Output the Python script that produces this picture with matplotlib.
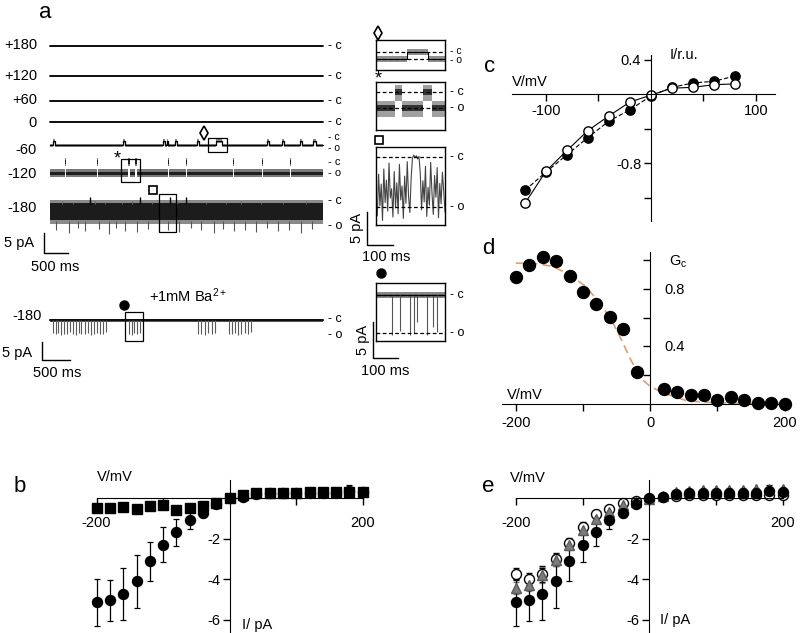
import numpy as np
import matplotlib
matplotlib.use('Agg')
import matplotlib.pyplot as plt
from matplotlib.patches import Rectangle

plt.rcParams['font.family'] = ['Liberation Sans', 'DejaVu Sans']
plt.rcParams['axes.unicode_minus'] = False
plt.rcParams['mathtext.fontset'] = 'custom'
plt.rcParams['mathtext.rm'] = 'Liberation Sans'
plt.rcParams['mathtext.it'] = 'Liberation Sans'

# ---------------- data ----------------
# a: single channel recordings (ms, pA; closed level = 0)
T_MAIN = 5500
trace_labels = ['+180', '+120', '+60', '0', '-60', '-120', '-180']

m60_open = -1.1
m60_close_t = [60, 1470, 2277, 2357, 2519, 2962, 3345, 4373, 4675, 5037, 5300]
m60_close_d = [40, 40, 30, 30, 40, 40, 110, 40, 30, 40, 50]

m120_open = -2.5
m120_close_t = [302, 947, 1572, 1713, 2378, 2740, 3687, 4272, 4836]
m120_close_d = [25, 25, 35, 35, 25, 25, 25, 25, 25]

m180_open = -6.25
m180_close_t = [806, 1813, 2418, 2740]
m180_down_t = [120, 380, 560, 700, 980, 1180, 1330, 1520, 1760, 1980, 2200, 2380, 2600,
               2850, 3050, 3300, 3480, 3700, 3920, 4150, 4380, 4600, 4820, 5050, 5280]
m180_down_v = [-7.6, -8.2, -7.0, -7.8, -7.3, -8.4, -7.1, -7.7, -8.0, -7.2, -7.9, -7.4, -8.1,
               -7.0, -7.6, -8.3, -7.2, -7.8, -7.5, -8.0, -7.1, -7.7, -7.4, -8.2, -7.3]
m180_up_t = [250, 470, 900, 1100, 1450, 1650, 2050, 2550, 3150, 3550, 3850, 4250, 4700, 5150]
m180_up_v = [-0.3, -0.5, -0.2, -0.6, -0.4, -0.3, -0.5, -0.2, -0.4, -0.6, -0.3, -0.5, -0.4, -0.2]

ba_open = -4.0
ba_spike_t = [60, 120, 170, 230, 290, 350, 400, 460, 520, 580, 630, 700, 760, 820, 880, 940,
              1000, 1060, 1120, 1590, 1650, 1700, 1760, 1820, 2980, 3050, 3120, 3180, 3260,
              3330, 3600, 3660, 3720, 3790, 3850, 3920, 3980, 4050]
ba_spike_v = [-3.3, -3.6, -3.2, -3.7, -3.4, -3.6, -3.1, -3.5, -3.7, -3.3, -3.6, -3.4, -3.2,
              -3.7, -3.5, -3.3, -3.6, -3.4, -3.0, -3.5, -3.7, -3.3, -3.6, -3.2, -3.6, -3.4,
              -3.7, -3.3, -3.5, -3.2, -3.4, -3.6, -3.3, -3.7, -3.5, -3.2, -3.6, -3.1]

# zoomed insets (265 ms each)
T_IN = 265
dia_open = -1.06
dia_close_t = [119]
dia_close_d = [81]
ast_open = -2.42
ast_close_t = [73, 180]
ast_close_d = [27, 35]
sq_open = -7.58
sq_vals = [-5.8, -8.9, -2.6, -7.4, -4.1, -9.6, -1.8, -6.9, -3.5, -8.2,
           -0.9, -6.2, -4.8, -9.1, -2.2, -7.7, -3.9, -8.6, -1.1, -6.5,
           -4.4, -9.3, -2.9, -7.0, -0.7, -5.9, -8.4, -3.2, -0.2, 0.3,
           -0.1, 0.2, -0.3, 0.1, -2.4, -8.0, -3.6, -6.8, -1.4, -9.0,
           -4.6, -7.3, -0.8, -5.5, -8.7, -2.8, -6.1, -1.6, -9.2, -4.0,
           -7.1, -2.3, -5.2, -8.3]
bai_open = -5.28
bai_spike_t = [61, 92, 131, 146, 157, 196, 219, 234]
bai_spike_v = [-5.6, -5.0, -5.5, -5.3, -3.8, -5.6, -4.5, -5.2]

# c: normalised I-V
V_c = [-120, -100, -80, -60, -40, -20, 0, 20, 40, 60, 80]
I_c_filled = [-1.11, -0.90, -0.70, -0.50, -0.31, -0.18, -0.02, 0.08, 0.13, 0.15, 0.21]
I_c_open = [-1.26, -0.89, -0.65, -0.42, -0.25, -0.09, -0.01, 0.07, 0.08, 0.11, 0.12]

# d: closed-state conductance
V_d = [-200, -180, -160, -140, -120, -100, -80, -60, -40, -20,
       20, 40, 60, 80, 100, 120, 140, 160, 180, 200]
G_d = [0.883, 0.969, 1.022, 0.997, 0.887, 0.778, 0.697, 0.604, 0.523, 0.218,
       0.102, 0.079, 0.063, 0.058, 0.028, 0.047, 0.028, 0.005, 0.005, -0.005]
V_fit = [-200, -170, -145, -120, -96, -73, -58, -44, -29, -14, 0, 23, 53, 83, 120, 160, 200]
G_fit = [0.98, 0.976, 0.957, 0.899, 0.818, 0.69, 0.585, 0.458, 0.307, 0.179, 0.12,
         0.07, 0.023, 0.01, 0.005, 0.003, 0.003]

# b / e: single channel I-V
V_iv = [-200, -180, -160, -140, -120, -100, -80, -60, -40, -20, 0,
        20, 40, 60, 80, 100, 120, 140, 160, 180, 200]
I_sq = [-0.51, -0.51, -0.43, -0.54, -0.39, -0.36, -0.59, -0.48, -0.39, -0.23, 0.0,
        0.16, 0.25, 0.25, 0.25, 0.25, 0.28, 0.28, 0.28, 0.31, 0.31]
E_sq = [0.1, 0.1, 0.08, 0.08, 0.08, 0.12, 0.08, 0.08, 0.15, 0.08, 0.05,
        0.05, 0.05, 0.05, 0.1, 0.1, 0.1, 0.1, 0.1, 0.15, 0.12]
I_ci = [-5.13, -5.03, -4.72, -4.10, -3.10, -2.30, -1.69, -1.10, -0.75, -0.30, 0.0,
        0.07, 0.2, 0.23, 0.27, 0.27, 0.27, 0.27, 0.27, 0.34, 0.3]
E_ci = [1.15, 1.02, 1.3, 1.3, 0.96, 0.87, 0.66, 0.41, 0.2, 0.1, 0.05,
        0.1, 0.1, 0.1, 0.1, 0.12, 0.12, 0.12, 0.12, 0.3, 0.12]
I_open_e = [-3.75, -4.0, -3.75, -3.02, -2.23, -1.44, -0.80, -0.56, -0.26, -0.13, -0.05,
            0.05, 0.12, 0.15, 0.15, 0.15, 0.17, 0.17, 0.17, 0.17, 0.17]
I_tri_e = [-4.44, -4.28, -3.79, -3.05, -2.31, -1.57, -1.05, -0.67, -0.34, -0.18, -0.05,
           0.1, 0.3, 0.35, 0.4, 0.4, 0.42, 0.42, 0.45, 0.45, 0.45]
E_oe = [0.3, 0.3, 0.4, 0.3, 0.25, 0.25, 0.2, 0.15, 0.1, 0.05, 0.05,
        0.05, 0.05, 0.05, 0.05, 0.05, 0.05, 0.05, 0.05, 0.05, 0.05]

# ---------------- figure ----------------
W, H = 800, 633
fig = plt.figure(figsize=(8, 6.33), dpi=100)


def px_axes(x0, y0, x1, y1):
    return fig.add_axes([x0 / W, 1 - y1 / H, (x1 - x0) / W, (y1 - y0) / H])


def step_trace(base, starts, durs, level, t_end):
    t, y = [0.0], [base]
    for s, d in zip(starts, durs):
        t += [s, s, s + d, s + d]
        y += [base, level, level, base]
    t.append(t_end)
    y.append(base)
    return np.array(t, float), np.array(y, float)


# --- a: long traces ---
ta = px_axes(0, 25, 360, 390)
ta.set_xlim(-1007, 6245)
ta.set_ylim(-91.25, 0)
ta.axis('off')
row_c = [-5.25, -12.75, -19.0, -24.25, -29.0, -34.5, -43.75]
for c in row_c[:4]:
    ta.fill_between([0, T_MAIN], c - 0.3, c + 0.3, color='#555555', lw=0)
    ta.plot([0, T_MAIN], [c, c], color='k', lw=1.1)

c = row_c[4]
t, y = step_trace(c + m60_open, m60_close_t, m60_close_d, c, T_MAIN)
ta.fill_between(t, y - 0.4, y + 0.4, color='#8a8a8a', lw=0)
ta.plot(t, y, color='k', lw=0.9)

c = row_c[5]
t, y = step_trace(c + m120_open, m120_close_t, m120_close_d, c + 0.3, T_MAIN)
ta.fill_between(t, y - 1.1, y + 0.9, color='#7a7a7a', lw=0)
ta.fill_between(t, y - 0.45, y + 0.35, color='#1e1e1e', lw=0)

c = row_c[6]
ta.fill_between([0, T_MAIN], c + 0.1, c + m180_open + 0.2, color='#8a8a8a', lw=0)
ta.fill_between([0, T_MAIN], c - 0.8, c + m180_open + 1.3, color='#1c1c1c', lw=0)
ta.vlines(m180_down_t, c + m180_open + 1.0, [c + v for v in m180_down_v], color='#555555', lw=0.8)
ta.vlines(m180_up_t, c - 1.0, [c + v for v in m180_up_v], color='#666666', lw=0.8)
ta.vlines(m180_close_t, c - 1.0, c + 0.7, color='k', lw=1.0)

c_ba = -73.75
ta.fill_between([0, T_MAIN], c_ba - 0.4, c_ba + 0.35, color='#555555', lw=0)
ta.plot([0, T_MAIN], [c_ba, c_ba], color='k', lw=1.2)
ta.vlines(ba_spike_t, c_ba, [c_ba + v for v in ba_spike_v], color='#5a5a5a', lw=0.8)


# --- a: insets ---
def inset(y0, y1, top, bottom):
    ax = px_axes(376, y0, 445, y1)
    ax.set_xlim(0, T_IN)
    ax.set_ylim(bottom, top)
    ax.set_xticks([])
    ax.set_yticks([])
    for s in ax.spines.values():
        s.set_linewidth(1.0)
    return ax


def dashed(ax, levels):
    for lv in levels:
        ax.axhline(lv, color='k', lw=0.9, ls=(0, (3, 2)))


ax = inset(40, 70, 1.82, -2.73)
t, y = step_trace(dia_open, dia_close_t, dia_close_d, 0.0, T_IN)
ax.fill_between(t, y - 0.45, y + 0.45, color='#909090', lw=0)
ax.plot(t, y, color='k', lw=0.8)
dashed(ax, [0, dia_open])

ax = inset(82, 130, 1.52, -5.76)
t, y = step_trace(ast_open, ast_close_t, ast_close_d, 0.0, T_IN)
ax.fill_between(t, y - 1.3, y + 1.1, color='#a0a0a0', lw=0)
ax.fill_between(t, y - 0.5, y + 0.4, color='#333333', lw=0)
dashed(ax, [0, ast_open])

ax = inset(147, 225, 1.52, -10.3)
t_sq = np.linspace(0, T_IN, len(sq_vals))
ax.plot(t_sq, sq_vals, color='#444444', lw=0.8)
dashed(ax, [0, sq_open])

ax = inset(283, 341, 1.67, -6.39)
ax.fill_between([0, T_IN], -0.4, 0.4, color='#888888', lw=0)
ax.plot([0, T_IN], [0, 0], color='k', lw=1.0)
ax.vlines(bai_spike_t, 0, bai_spike_v, color='#555555', lw=0.8)
dashed(ax, [0, bai_open])


# --- helpers for the I-V style panels ---
def cross_axes(ax, xb, yb):
    for s in ['top', 'right']:
        ax.spines[s].set_visible(False)
    ax.spines['left'].set_position(('data', 0))
    ax.spines['bottom'].set_position(('data', 0))
    ax.spines['left'].set_bounds(*yb)
    ax.spines['bottom'].set_bounds(*xb)
    ax.patch.set_visible(False)
    ax.tick_params(direction='out', length=5, width=1, labelsize=10.5, pad=2)


# --- c ---
ax = px_axes(504, 51, 782, 224)
ax.set_xlim(-140, 125)
ax.set_ylim(-1.5, 0.5)
cross_axes(ax, (-132, 118), (-1.47, 0.45))
ax.set_xticks([-100, -50, 50, 100], ['-100', '', '', '100'])
ax.set_yticks([0.4, -0.4, -0.8, -1.2], ['0.4', '', '-0.8', ''])
ax.plot(V_c, I_c_filled, color='k', lw=0.8, ls=(0, (4, 2)), marker='o', ms=6.7,
        mfc='k', mec='k')
ax.plot(V_c, I_c_open, color='k', lw=0.8, marker='o', ms=6.7, mfc='white', mec='k', mew=1.0)

# --- d ---
ax = px_axes(499, 243, 796, 421)
ax.set_xlim(-225, 217)
ax.set_ylim(-0.12, 1.12)
cross_axes(ax, (-220, 207), (0, 1.06))
ax.set_xticks([-200, -100, 0, 100, 200], ['-200', '', '0', '', '200'])
ax.set_yticks([0.2, 0.4, 0.6, 0.8, 1.0], ['', '', '', '', ''])
ax.tick_params(axis='x', pad=4)
ax.plot(V_fit, G_fit, color='#d9a075', lw=1.2, ls=(0, (5, 3)))
ax.plot(V_d, G_d, 'o', color='k', ms=8.6)


# --- b, e ---
def iv_axes(x0, x1, xlim):
    ax = px_axes(x0, 470, x1, 633)
    ax.set_xlim(*xlim)
    ax.set_ylim(-6.64, 1.38)
    cross_axes(ax, (-200, 200), (-6.64, 0.9))
    ax.set_xticks([-200, -100, 100, 200], ['-200', '', '', '200'])
    ax.set_yticks([-2, -4, -6], ['-2', '-4', '-6'])
    ax.tick_params(axis='x', pad=8)
    return ax


ebar = dict(capsize=2.2, elinewidth=0.9, capthick=0.9, ls='none')
ax = iv_axes(60, 400, (-255, 256))
ax.errorbar(V_iv, I_ci, yerr=E_ci, fmt='o', color='k', ms=7.2, **ebar)
ax.errorbar(V_iv, I_sq, yerr=E_sq, fmt='s', color='k', ms=6.5, **ebar)

ax = iv_axes(480, 800, (-253.6, 225.8))
ax.errorbar(V_iv, I_open_e, yerr=E_oe, fmt='o', color='k', mfc='white', mec='k', ms=7.2,
            mew=1.0, **ebar)
ax.errorbar(V_iv, I_tri_e, yerr=E_oe, fmt='^', color='#777777', mfc='#7c7c7c', mec='#5a5a5a',
            ms=7.2, **ebar)
ax.errorbar(V_iv, I_ci, yerr=E_ci, fmt='o', color='k', ms=7.2, **ebar)

# ---------------- annotations (pixel space) ----------------
ov = fig.add_axes([0, 0, 1, 1])
ov.set_xlim(0, W)
ov.set_ylim(H, 0)
ov.axis('off')


def txt(x, y, s, size=10.5, ha='center', **kw):
    ov.text(x, y, s, fontsize=size, ha=ha, va='center', **kw)


# panel letters
for lab, x, y in [('a', 45, 13), ('b', 20, 487), ('c', 490, 66), ('d', 488, 249), ('e', 488, 486)]:
    txt(x, y, lab, size=16)

# trace labels
for lab, y in zip(trace_labels, [45, 76, 100, 123, 150, 174, 208]):
    txt(37, y, lab, ha='right')
for y in [46, 76, 101, 122, 201, 319]:
    txt(328, y, '- c', size=9, ha='left')
for y in [226, 335]:
    txt(328, y, '- o', size=9, ha='left')
# closely spaced c / o pairs
for yc, yo, fs in [(136.5, 148, 7.5), (162, 173, 8)]:
    txt(328, yc, '- c', size=fs, ha='left')
    txt(328, yo, '- o', size=fs, ha='left')
txt(42, 316, '-180', ha='right')
txt(188, 296, '+1mM Ba$^{2+}$')

# boxes over traces
for x0, y0, x1, y1 in [(208, 138, 227, 152), (121, 159, 140, 182), (159, 194, 176, 232),
                       (125, 312, 143, 341)]:
    ov.add_patch(Rectangle((x0, y0), x1 - x0, y1 - y0, fill=False, ec='k', lw=0.9))

# symbols
ov.plot([204], [133], marker='d', ms=7, mfc='none', mec='k', mew=1.2)
ov.plot([378], [33], marker='d', ms=7, mfc='none', mec='k', mew=1.2)
txt(117, 159, '*', size=13)
txt(378, 79, '*', size=13)
ov.plot([153], [190], marker='s', ms=6, mfc='none', mec='k', mew=1.2)
ov.plot([379], [140], marker='s', ms=6, mfc='none', mec='k', mew=1.2)
ov.plot([124], [305], marker='o', ms=6.5, color='k')
ov.plot([381], [273], marker='o', ms=6.5, color='k')

# inset level labels
for yc, yo, fs in [(51, 60, 7.5), (92, 108, 9), (157, 207, 9), (295, 333, 9)]:
    txt(450, yc, '- c', size=fs, ha='left')
    txt(450, yo, '- o', size=fs, ha='left')

# scale bars
ov.plot([44, 44, 68], [233, 253, 253], color='k', lw=1.0)
txt(19, 243, '5 pA')
txt(55, 267, '500 ms')
ov.plot([42, 42, 70], [342, 360, 360], color='k', lw=1.0)
txt(17, 353, '5 pA')
txt(57, 373, '500 ms')
ov.plot([367, 367, 393], [212, 245, 245], color='k', lw=1.0)
txt(357, 228, '5 pA', rotation=90)
txt(386, 257, '100 ms')
ov.plot([373, 373, 398], [322, 358, 358], color='k', lw=1.0)
txt(363, 340, '5 pA', rotation=90)
txt(385, 371, '100 ms')

# axis titles
txt(530, 82, 'V/mV')
txt(684, 55, 'I/r.u.')
txt(525, 395, 'V/mV')
txt(678, 262, 'G$_\\mathrm{c}$')
txt(675, 290, '0.8')
txt(675, 347, '0.4')
txt(115, 477, 'V/mV')
txt(257, 625, 'I/ pA')
txt(528, 478, 'V/mV')
txt(675, 620, 'I/ pA')

fig.savefig('out.png', dpi=100)
